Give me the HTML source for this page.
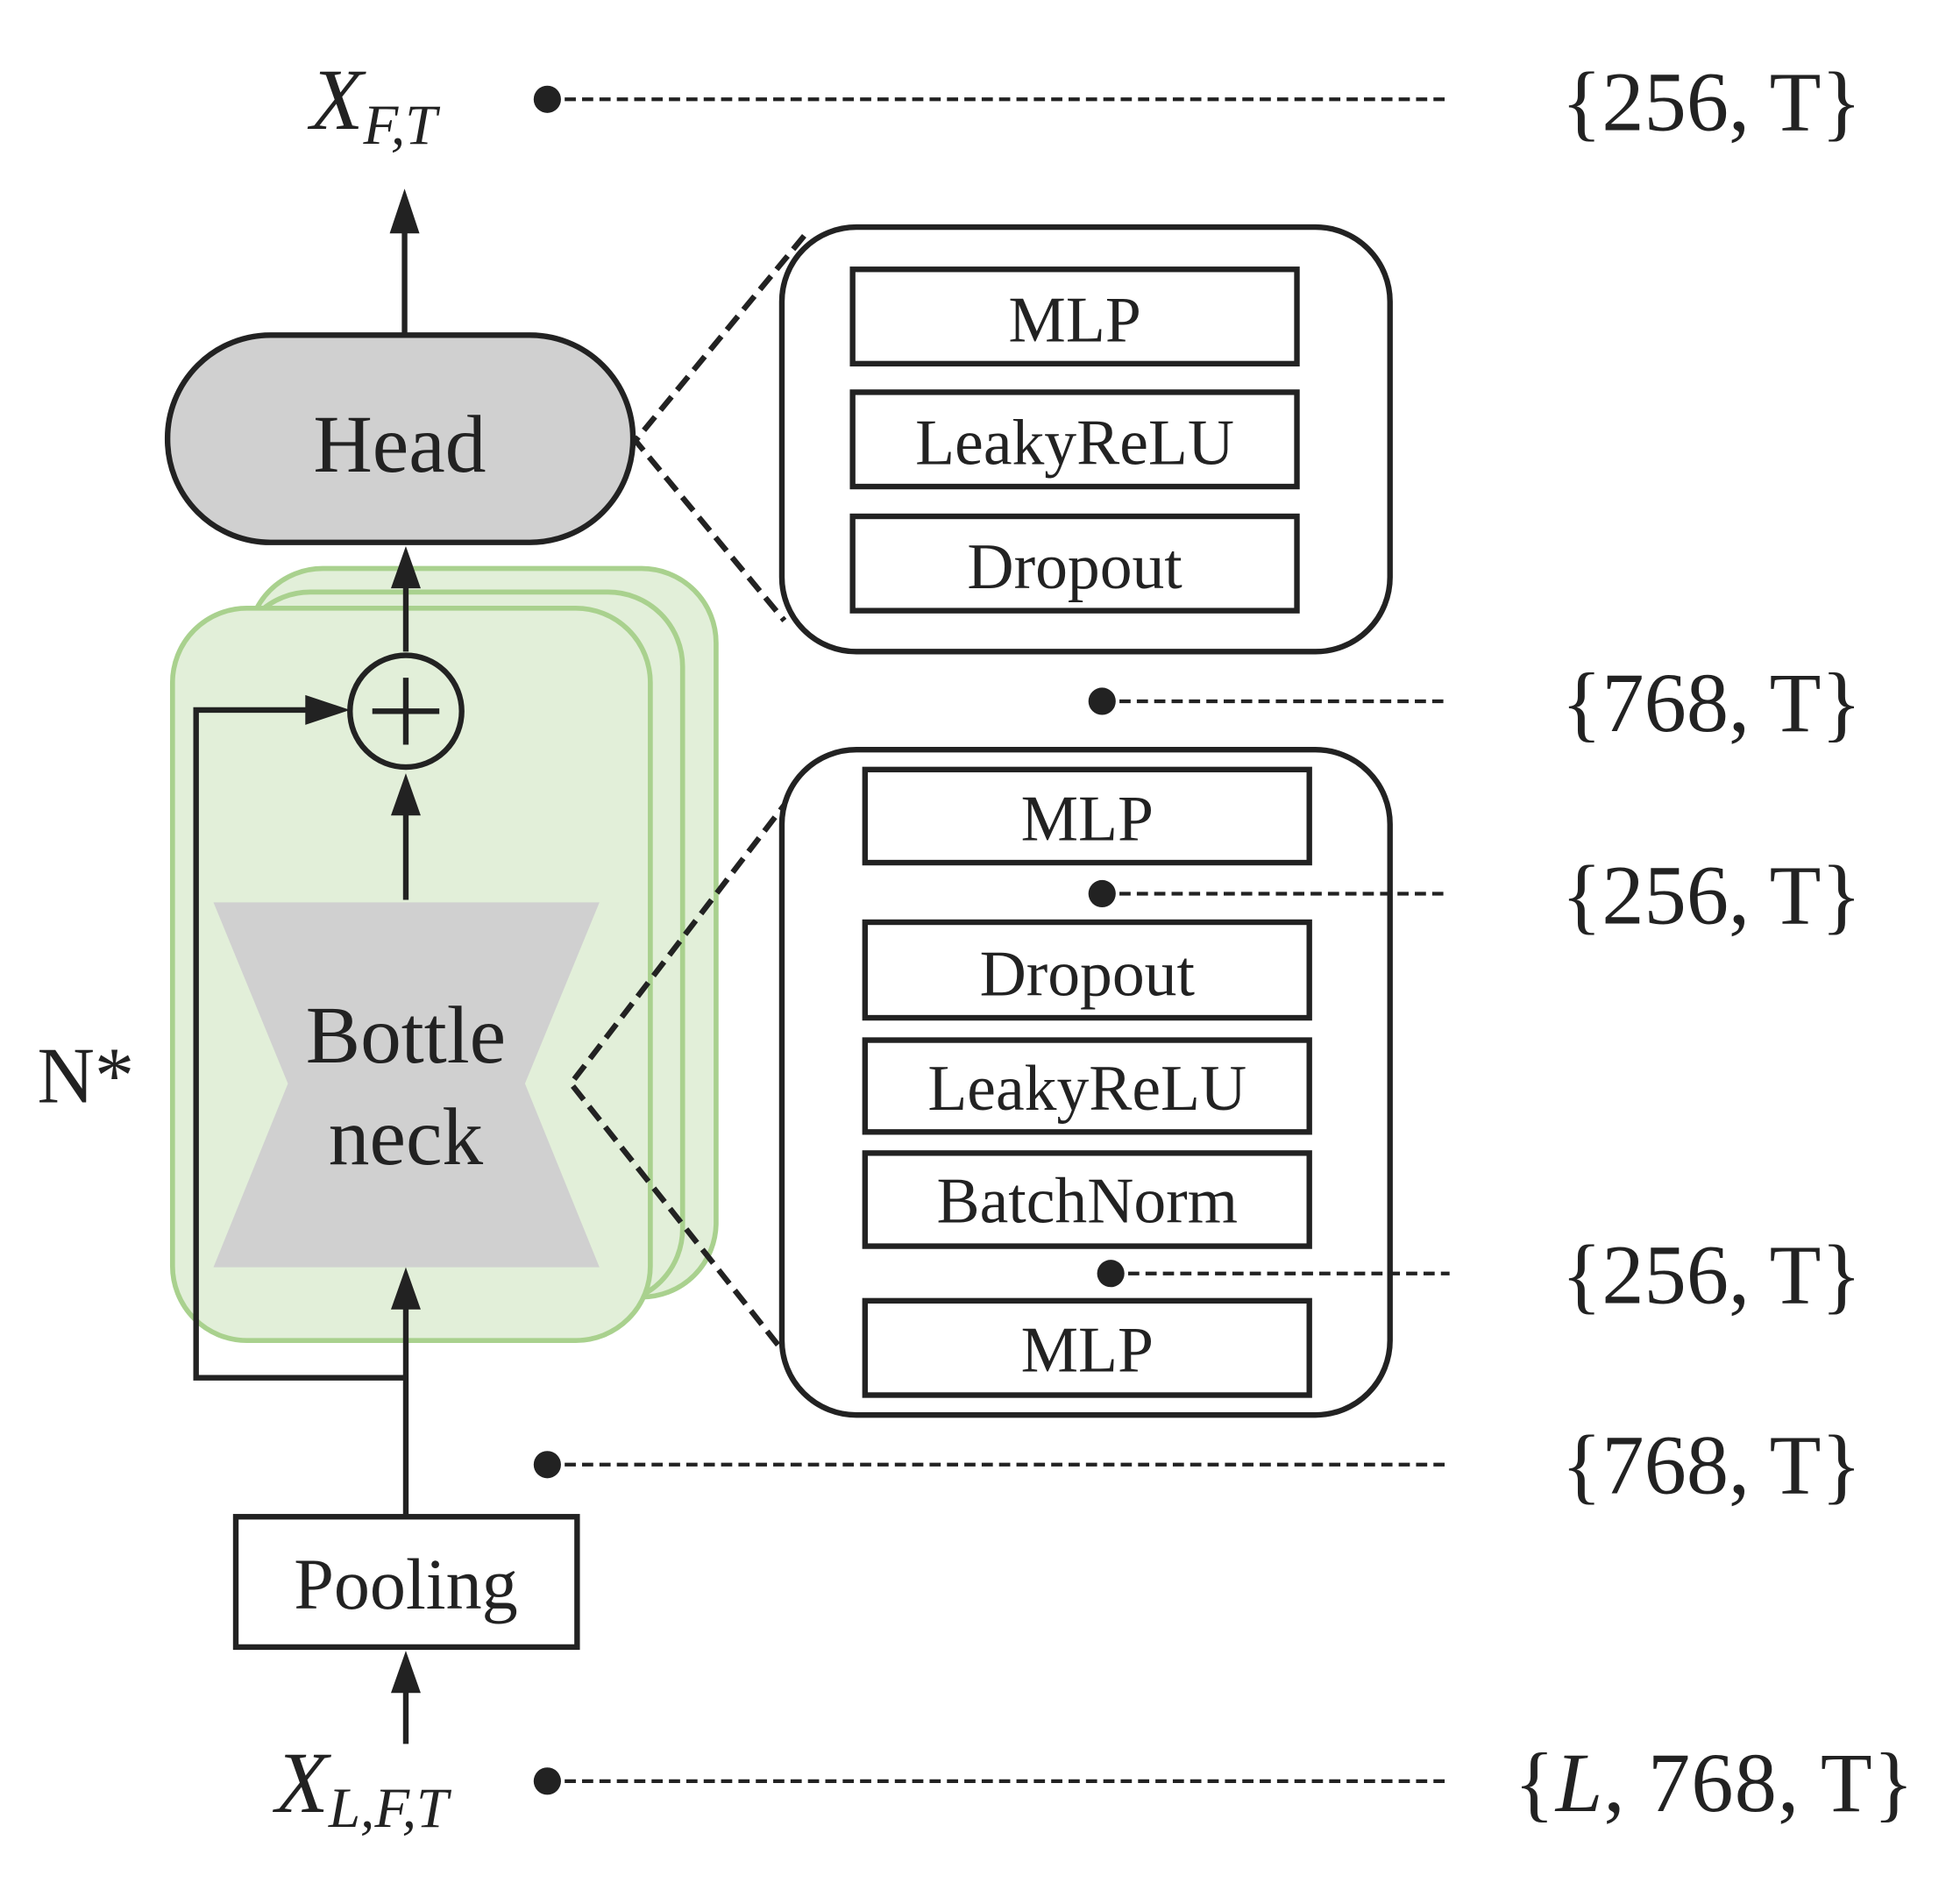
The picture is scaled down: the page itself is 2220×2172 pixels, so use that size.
<!DOCTYPE html>
<html><head><style>html,body{margin:0;padding:0;background:#fff}svg{display:block}</style></head>
<body>
<svg width="2220" height="2172" viewBox="0 0 1568 1534" preserveAspectRatio="none" xmlns="http://www.w3.org/2000/svg" font-family="'Liberation Serif', serif" fill="#222">
<!-- green stack -->
<g fill="#e2efd9" stroke="#a9d18e" stroke-width="4">
<rect x="200" y="458" width="377" height="587" rx="60"/>
<rect x="190" y="477" width="360" height="573" rx="60"/>
<rect x="139" y="490" width="385" height="590" rx="60"/>
</g>
<!-- head -->
<rect x="135" y="270" width="375" height="167" rx="83" fill="#d0d0d0" stroke="#222" stroke-width="4.5"/>
<text x="322" y="380" font-size="66" text-anchor="middle">Head</text>
<!-- bottleneck -->
<polygon points="172,727 483,727 423,873 483,1021 172,1021 232,873" fill="#d0d0d0"/>
<text x="327" y="856" font-size="66" text-anchor="middle">Bottle</text>
<text x="327" y="938" font-size="66" text-anchor="middle">neck</text>
<text x="30" y="888" font-size="64">N*</text>
<!-- arrows -->
<g stroke="#222" stroke-width="4.5" fill="none">
<line x1="326" y1="268" x2="326" y2="180"/>
<line x1="327" y1="525" x2="327" y2="465"/>
<line x1="327" y1="725" x2="327" y2="650"/>
<line x1="327" y1="1220" x2="327" y2="1048"/>
<line x1="327" y1="1405" x2="327" y2="1355"/>
<polyline points="327,1110 158,1110 158,572 255,572"/>
<circle cx="327" cy="573" r="45"/>
<line x1="300" y1="573" x2="354" y2="573"/>
<line x1="327" y1="546" x2="327" y2="600"/>
</g>
<g fill="#222">
<polygon points="326,152 314,188 338,188"/>
<polygon points="327,440 315,474 339,474"/>
<polygon points="327,623 315,657 339,657"/>
<polygon points="327,1021 315,1055 339,1055"/>
<polygon points="327,1330 315,1364 339,1364"/>
<polygon points="282,572 246,560 246,584"/>
</g>
<!-- pooling -->
<rect x="190" y="1222" width="275" height="105" fill="#fff" stroke="#222" stroke-width="4.5"/>
<text x="327" y="1296" font-size="58" text-anchor="middle">Pooling</text>
<!-- zoom dashed -->
<g stroke="#222" stroke-width="4.5" stroke-dasharray="14,7" fill="none">
<polyline points="648,190 512,355 632,500"/>
<polyline points="650,625 460,873 632,1090"/>
</g>
<!-- boxes -->
<g stroke="#222" stroke-width="4.5" fill="#fff">
<rect x="630" y="183" width="490" height="342" rx="60"/>
<rect x="687" y="217" width="358" height="76"/>
<rect x="687" y="316" width="358" height="76"/>
<rect x="687" y="416" width="358" height="76"/>
<rect x="630" y="604" width="490" height="536" rx="60"/>
<rect x="697" y="620" width="358" height="75"/>
<rect x="697" y="743" width="358" height="77"/>
<rect x="697" y="838" width="358" height="74"/>
<rect x="697" y="929" width="358" height="75"/>
<rect x="697" y="1048" width="358" height="76"/>
</g>
<g font-size="52" text-anchor="middle">
<text x="866" y="275">MLP</text>
<text x="866" y="374">LeakyReLU</text>
<text x="866" y="474">Dropout</text>
<text x="876" y="677">MLP</text>
<text x="876" y="802">Dropout</text>
<text x="876" y="894">LeakyReLU</text>
<text x="876" y="985">BatchNorm</text>
<text x="876" y="1105">MLP</text>
</g>
<!-- dashed level lines -->
<g stroke="#222" stroke-width="3" stroke-dasharray="9,5" fill="none">
<line x1="441" y1="80" x2="1168" y2="80"/>
<line x1="888" y1="565" x2="1168" y2="565"/>
<line x1="888" y1="720" x2="1168" y2="720"/>
<line x1="895" y1="1026" x2="1168" y2="1026"/>
<line x1="441" y1="1180" x2="1168" y2="1180"/>
<line x1="441" y1="1435" x2="1168" y2="1435"/>
</g>
<g fill="#222">
<circle cx="441" cy="80" r="11"/><circle cx="888" cy="565" r="11"/><circle cx="888" cy="720" r="11"/>
<circle cx="895" cy="1026" r="11"/><circle cx="441" cy="1180" r="11"/><circle cx="441" cy="1435" r="11"/>
</g>
<!-- labels -->
<g font-size="70">
<text x="250" y="104" font-style="italic">X<tspan font-size="46" dy="12">F,T</tspan></text>
<text x="222" y="1460" font-style="italic">X<tspan font-size="46" dy="12">L,F,T</tspan></text>
</g>
<g font-size="68">
<text x="1258" y="105" textLength="242">{256, T}</text>
<text x="1258" y="589" textLength="242">{768, T}</text>
<text x="1258" y="744" textLength="242">{256, T}</text>
<text x="1258" y="1050" textLength="242">{256, T}</text>
<text x="1258" y="1203" textLength="242">{768, T}</text>
<text x="1220" y="1459" textLength="322">{<tspan font-style="italic">L</tspan>, 768, T}</text>
</g>
</svg>
</body></html>
